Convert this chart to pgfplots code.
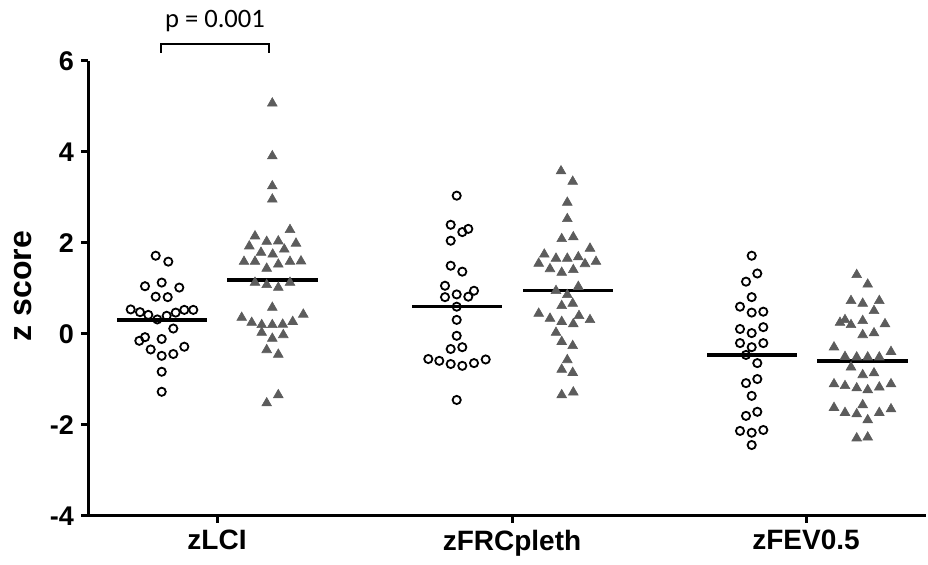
\documentclass[border=0pt]{standalone}
\usepackage{fontspec}
\setmainfont{Liberation Sans}
\newfontfamily\carlito{Carlito}
\usepackage{pgfplots}
\pgfplotsset{compat=1.18}
\definecolor{trigray}{RGB}{92,92,92}
\pgfplotsset{
  circ/.style={only marks, mark=o, mark size=2.05pt, mark options={line width=0.9pt, draw=black}},
  tri/.style={only marks, mark=triangle*, mark size=2.8pt, mark options={fill=trigray, draw=trigray, line width=0.3pt}},
  meanline/.style={line width=1.7pt, black},
}
\begin{document}
\begin{tikzpicture}
\useasboundingbox (0,0) rectangle (464pt,282.5pt);
\begin{axis}[
  at={(44pt,24.5pt)}, anchor=south west,
  scale only axis, width=419pt, height=227.5pt,
  xmin=88, xmax=926, ymin=-4, ymax=6,
  clip=false,
  axis x line*=bottom, axis y line*=left,
  axis line style={line width=1.5pt, -},
  tick style={line width=1.5pt, black},
  tick align=outside, major tick length=3.5pt,
  xtick={217,512,806}, xticklabels={zLCI,zFRCpleth,zFEV0.5},
  ytick={-4,-2,0,2,4,6}, yticklabels={-4,-2,0,2,4,6},
  yticklabel style={font=\fontsize{13.5}{15}\selectfont\bfseries},
  xticklabel style={font=\fontsize{14}{16}\selectfont\bfseries},
  ylabel={z score},
  ylabel style={font=\fontsize{16}{18}\selectfont\bfseries, at={(axis description cs:-0.078,0.505)}, anchor=center},
]
% zLCI circles
\addplot[circ] table {
x y
155.7 1.72
168.3 1.59
145 1.05
161.7 1.13
179.3 1.02
155.7 0.82
167.7 0.81
130.7 0.54
140 0.48
148.3 0.42
157.3 0.32
166.7 0.40
175.7 0.47
184.3 0.53
193.3 0.53
173.3 0.12
139.3 -0.15
145 -0.07
161.7 -0.11
150.7 -0.34
161.7 -0.48
173.3 -0.44
184.3 -0.28
161.7 -0.83
161.7 -1.27
};
% zLCI triangles
\addplot[tri] table {
x y
272.3 5.07
272.3 3.91
272.3 3.25
272.3 2.96
290 2.29
255 2.15
266.7 2.03
278.3 2.04
249.3 1.93
296 1.99
261 1.79
272.7 1.75
284.3 1.86
244 1.59
255 1.59
266.7 1.44
278.3 1.53
290 1.59
301 1.60
255 1.13
266.7 1.08
278.3 1.02
290 1.13
272.3 0.58
241.7 0.36
251.7 0.25
261.7 0.20
272.3 0.20
282.7 0.21
292.7 0.27
303.3 0.43
261.7 0.03
272.3 -0.10
283.3 -0.02
266.7 -0.35
278.3 -0.45
278.3 -1.34
266.7 -1.52
};
% zFRCpleth circles
\addplot[circ] table {
x y
456.7 3.04
450.7 2.40
462.3 2.24
468.3 2.31
450.7 2.05
450.7 1.50
462.3 1.37
445 1.06
456.7 0.87
474 0.95
445 0.81
468.3 0.82
456.7 0.60
456.7 0.31
456.7 -0.04
450.7 -0.33
462.3 -0.29
428.3 -0.55
439.3 -0.59
450.7 -0.66
462.3 -0.70
474 -0.64
485.7 -0.56
456.7 -1.45
};
% zFRCpleth triangles
\addplot[tri] table {
x y
561 3.58
572.7 3.35
567.3 2.89
567.3 2.53
561.7 2.09
573.3 2.13
590 1.88
544.3 1.75
556 1.66
567.3 1.66
578.3 1.69
538.7 1.55
585 1.54
596 1.59
550 1.43
561.7 1.35
573.3 1.41
556 0.95
578.3 1.04
567.3 0.86
561.7 0.62
572.7 0.67
538.7 0.45
550 0.34
561.7 0.27
579 0.40
573.3 0.22
590 0.31
556 0.03
561.7 -0.17
572.7 -0.26
567.3 -0.57
561.7 -0.78
572.7 -0.85
561.7 -1.34
573.3 -1.28
};
% zFEV0.5 circles
\addplot[circ] table {
x y
751.7 1.72
757.3 1.33
746 1.15
751.7 0.81
740 0.60
751.7 0.47
763.3 0.49
740 0.11
751.7 0.02
763.3 0.15
740 -0.20
751.7 -0.29
763.3 -0.20
746 -0.46
757.3 -0.64
746 -1.08
757.3 -0.99
751.7 -1.36
746 -1.80
757.3 -1.71
740 -2.13
751.7 -2.17
763.3 -2.11
751.7 -2.44
};
% zFEV0.5 triangles
\addplot[tri] table {
x y
856.7 1.30
867.7 1.09
851 0.73
862.7 0.67
879.3 0.73
874 0.51
840 0.25
845 0.31
851 0.20
862.7 0.29
885 0.22
862.7 -0.02
874 0.02
834 -0.29
891 -0.39
845 -0.50
856.7 -0.51
867.7 -0.51
879.3 -0.51
851 -0.73
862.7 -0.90
874 -0.86
834 -1.10
845 -1.14
856.7 -1.19
867.7 -1.23
879.3 -1.17
891 -1.10
834 -1.62
845 -1.73
856.7 -1.76
862.7 -1.56
867.7 -1.89
879.3 -1.73
891 -1.65
856.7 -2.29
867.7 -2.27
};
% mean lines
\addplot[meanline] coordinates {(117,0.31) (207,0.31)};
\addplot[meanline] coordinates {(227,1.19) (318,1.19)};
\addplot[meanline] coordinates {(412,0.60) (502,0.60)};
\addplot[meanline] coordinates {(523,0.95) (613,0.95)};
\addplot[meanline] coordinates {(707,-0.46) (797,-0.46)};
\addplot[meanline] coordinates {(817,-0.59) (908,-0.59)};
% significance bracket
\draw[line width=1.1pt] (axis cs:161,6.18) -- (axis cs:161,6.37) -- (axis cs:269,6.37) -- (axis cs:269,6.18);
\node[font={\carlito\fontsize{13.3}{15}\selectfont}, anchor=base] at (axis cs:215,6.73) {p = 0.001};
\end{axis}
\end{tikzpicture}
\end{document}
